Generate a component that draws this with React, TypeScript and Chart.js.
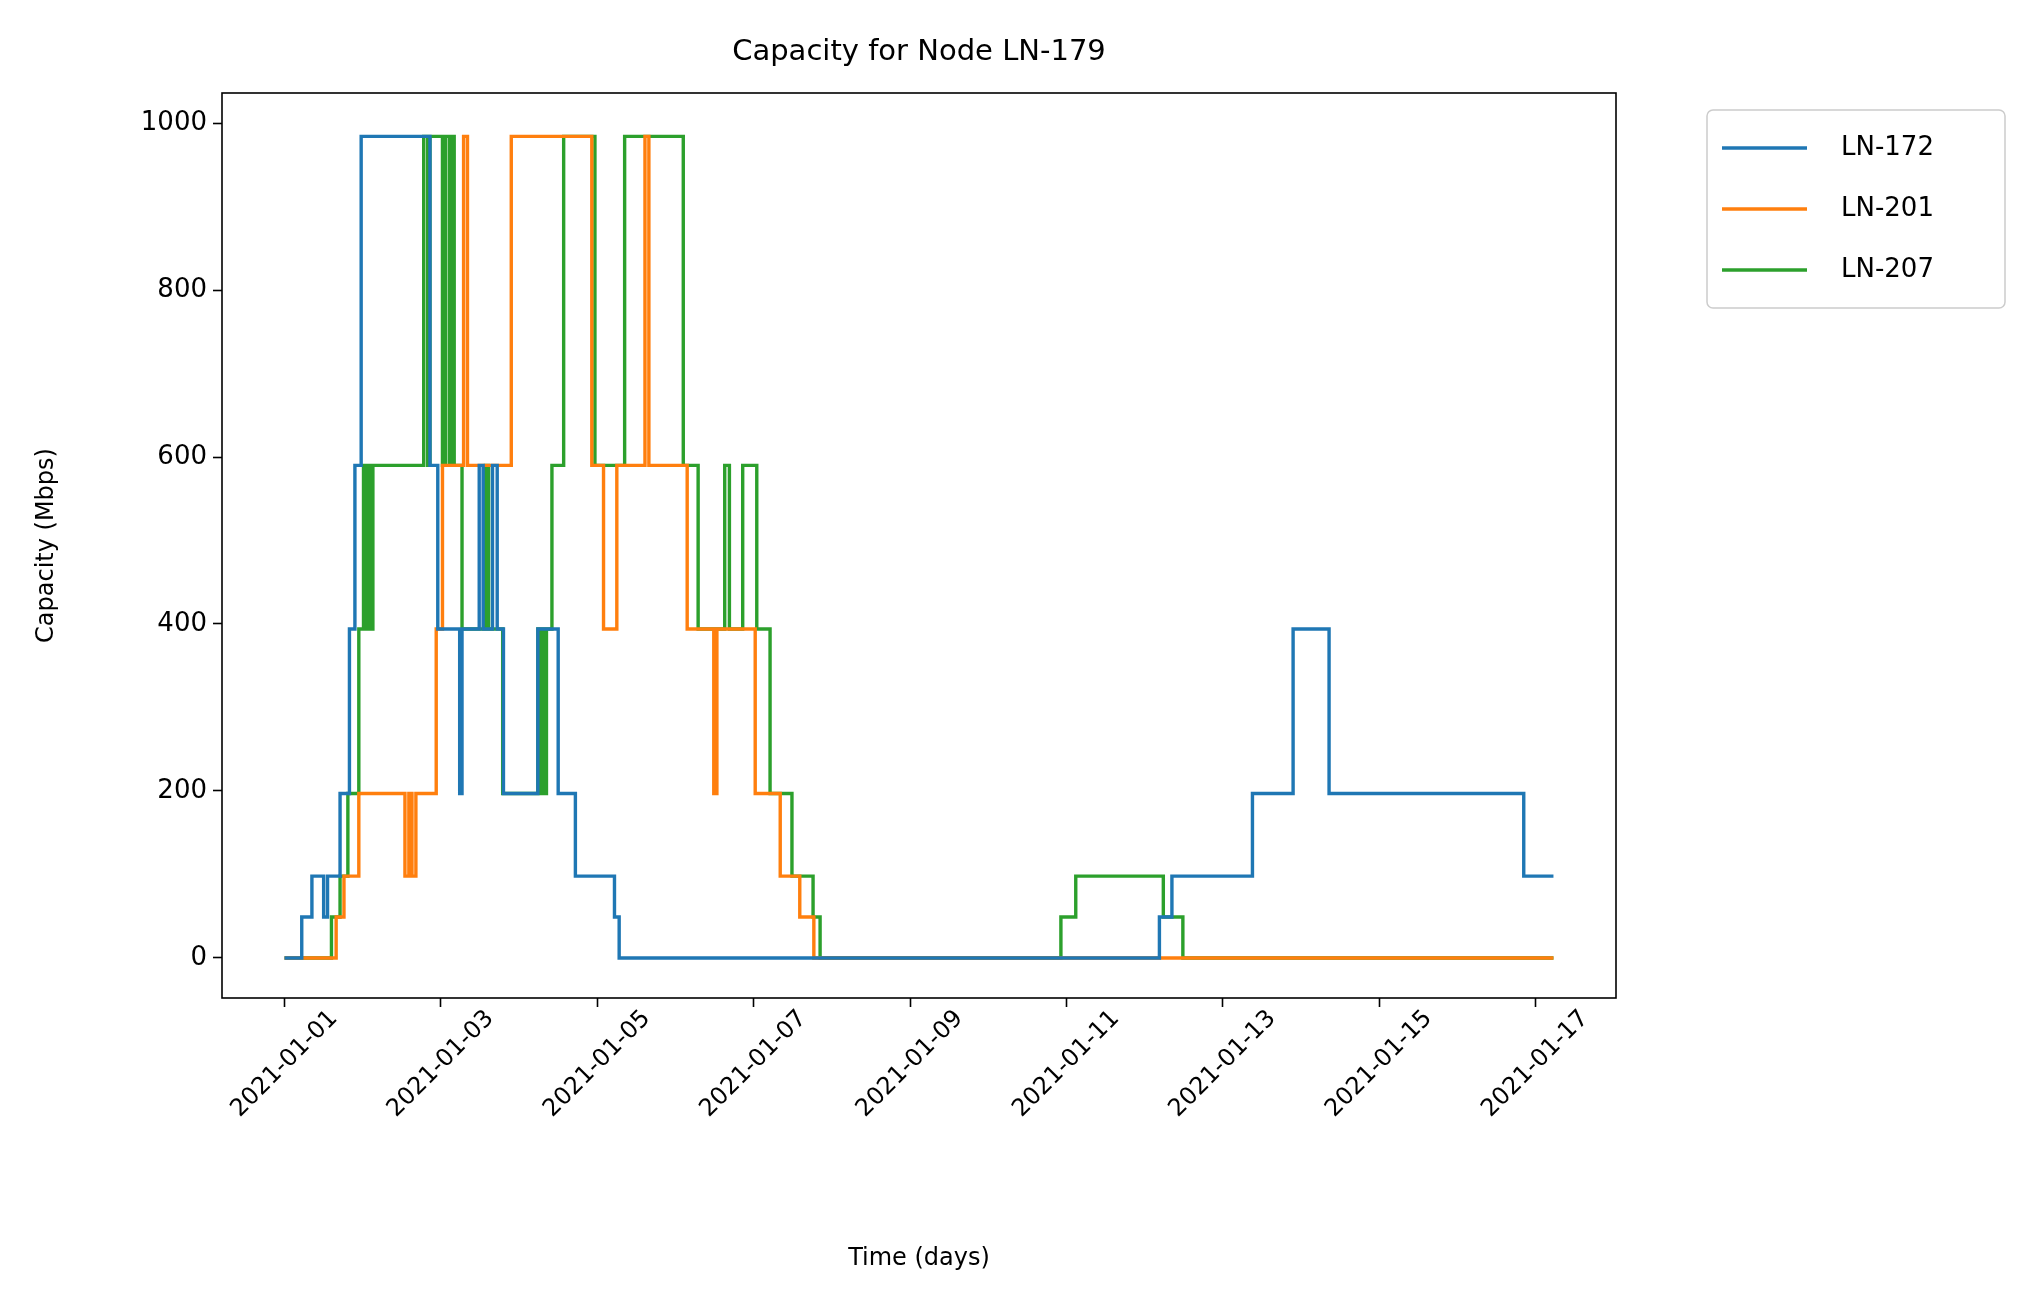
import { Chart, registerables } from "chart.js";
import { useEffect, useRef } from "react";

Chart.register(...registerables);

// days since 2021-01-01 where the capacity changes, and the new value (Mbps)
const ln172Days = [0, 0.22, 0.35, 0.5, 0.55, 0.71, 0.83, 0.9, 0.98, 1.86, 1.96, 2.24, 2.27, 2.49, 2.54, 2.66, 2.72, 2.8, 3.24, 3.5, 3.72, 4.22, 4.28, 11.19, 11.35, 12.38, 12.9, 13.36, 15.85, 16.23];
const ln172Vals = [0, 49, 98, 49, 98, 197, 394, 590, 984, 590, 394, 197, 394, 590, 394, 590, 394, 197, 394, 197, 98, 49, 0, 49, 98, 197, 394, 197, 98, 98];

const ln201Days = [0, 0.66, 0.76, 0.95, 1.54, 1.59, 1.63, 1.68, 1.94, 2.02, 2.29, 2.34, 2.9, 3.93, 4.08, 4.25, 4.61, 4.66, 5.15, 5.49, 5.53, 6.02, 6.34, 6.59, 6.77, 16.23];
const ln201Vals = [0, 49, 98, 197, 98, 197, 98, 197, 394, 590, 984, 590, 984, 590, 394, 590, 984, 590, 394, 197, 394, 197, 98, 49, 0, 0];

const ln207Days = [0, 0.6, 0.71, 0.81, 0.95, 1.01, 1.05, 1.08, 1.1, 1.13, 1.78, 1.83, 1.86, 2.02, 2.06, 2.11, 2.14, 2.17, 2.27, 2.57, 2.61, 2.79, 3.24, 3.27, 3.3, 3.34, 3.35, 3.42, 3.57, 3.97, 4.35, 5.1, 5.29, 5.63, 5.69, 5.86, 6.04, 6.21, 6.49, 6.76, 6.85, 9.93, 10.12, 11.24, 11.49, 16.23];
const ln207Vals = [0, 49, 98, 197, 394, 590, 394, 590, 394, 590, 984, 590, 984, 590, 984, 590, 984, 590, 394, 590, 394, 197, 394, 197, 394, 197, 394, 590, 984, 590, 984, 590, 394, 590, 394, 590, 394, 197, 98, 49, 0, 49, 98, 49, 0, 0];

const seriesNames = ["LN-172", "LN-201", "LN-207"];
const seriesColors = ["#1f77b4", "#ff7f0e", "#2ca02c"];
const xTicks = [0, 2, 4, 6, 8, 10, 12, 14, 16];
const yTicks = [0, 200, 400, 600, 800, 1000];

const W = 2036, H = 1314;
const L = 222, R = 1616, T = 93, B = 998;
const FONT = "DejaVu Sans";

const pts = (d: number[], v: number[]) => d.map((x, i) => ({ x, y: v[i] }));

function dateLabel(day: number) {
  const dt = new Date(Date.UTC(2021, 0, 1 + day));
  const m = String(dt.getUTCMonth() + 1).padStart(2, "0");
  const d = String(dt.getUTCDate()).padStart(2, "0");
  return `${dt.getUTCFullYear()}-${m}-${d}`;
}

const decor = {
  id: "decor",
  afterDraw(chart: any) {
    const ctx = chart.ctx;
    const a = chart.chartArea;
    ctx.save();
    ctx.strokeStyle = "#000";
    ctx.lineWidth = 1.6;
    ctx.strokeRect(a.left, a.top, a.right - a.left, a.bottom - a.top);
    ctx.fillStyle = "#000";
    // title
    ctx.font = `29px '${FONT}'`;
    ctx.textAlign = "center";
    ctx.textBaseline = "middle";
    ctx.fillText("Capacity for Node LN-179", (a.left + a.right) / 2, 52);
    // axis titles
    ctx.font = `24px '${FONT}'`;
    ctx.fillText("Time (days)", (a.left + a.right) / 2, 1259);
    ctx.save();
    ctx.translate(47, (a.top + a.bottom) / 2);
    ctx.rotate(-Math.PI / 2);
    ctx.fillText("Capacity (Mbps)", 0, 0);
    ctx.restore();
    // rotated x tick labels, centred like matplotlib
    const xs = chart.scales.x;
    xTicks.forEach((t) => {
      ctx.save();
      ctx.translate(xs.getPixelForValue(t), a.bottom + 66);
      ctx.rotate(-Math.PI / 4);
      ctx.fillText(dateLabel(t), 0, 0);
      ctx.restore();
    });
    // legend
    const lx = 1707, ly = 110, lw = 298, lh = 198;
    ctx.fillStyle = "rgba(255,255,255,0.8)";
    ctx.strokeStyle = "#cccccc";
    ctx.lineWidth = 1.5;
    ctx.beginPath();
    ctx.roundRect(lx, ly, lw, lh, 6);
    ctx.fill();
    ctx.stroke();
    ctx.textAlign = "left";
    ctx.font = `26px '${FONT}'`;
    seriesNames.forEach((n, i) => {
      const y = 148 + i * 61;
      ctx.strokeStyle = seriesColors[i];
      ctx.lineWidth = 3.4;
      ctx.beginPath();
      ctx.moveTo(1722, y);
      ctx.lineTo(1807, y);
      ctx.stroke();
      ctx.fillStyle = "#000";
      ctx.fillText(n, 1841, y);
    });
    ctx.restore();
  },
};

export default function App() {
  const canvasRef = useRef<HTMLCanvasElement | null>(null);
  useEffect(() => {
    document.body.style.margin = "0";
    if (!canvasRef.current) return;
    const series = [
      pts(ln172Days, ln172Vals),
      pts(ln201Days, ln201Vals),
      pts(ln207Days, ln207Vals),
    ];
    const chart = new Chart(canvasRef.current, {
      type: "line",
      data: {
        datasets: series.map((data, i) => ({
          label: seriesNames[i],
          data,
          borderColor: seriesColors[i],
          borderWidth: 3.4,
          pointRadius: 0,
          stepped: "before" as const,
          fill: false,
        })),
      },
      options: {
        responsive: false,
        animation: false,
        devicePixelRatio: 1,
        layout: { padding: { left: 0, top: T, right: W - R, bottom: 0 } },
        plugins: { legend: { display: false }, title: { display: false }, tooltip: { enabled: false } },
        scales: {
          x: {
            type: "linear",
            min: -0.8,
            max: 17.03,
            afterFit: (s: any) => { s.height = H - B; },
            afterBuildTicks: (s: any) => { s.ticks = xTicks.map((value) => ({ value })); },
            grid: { drawOnChartArea: false, tickLength: 9, tickColor: "#000", tickWidth: 1.6 },
            border: { display: false },
            ticks: { display: false },
          },
          y: {
            min: -48,
            max: 1036,
            afterFit: (s: any) => { s.width = L; },
            afterBuildTicks: (s: any) => { s.ticks = yTicks.map((value) => ({ value })); },
            grid: { drawOnChartArea: false, tickLength: 9, tickColor: "#000", tickWidth: 1.6 },
            border: { display: false },
            ticks: { color: "#000", font: { family: FONT, size: 26 }, padding: 6, callback: (v: any) => String(v) },
          },
        },
      },
      plugins: [decor],
    });
    return () => chart.destroy();
  }, []);
  return <canvas ref={canvasRef} width={W} height={H} style={{ width: W, height: H, display: "block" }} />;
}
